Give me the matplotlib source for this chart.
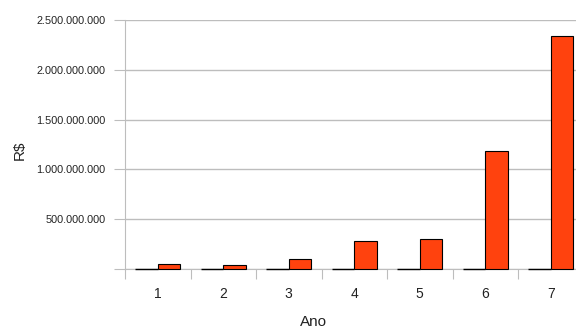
import numpy as np
import matplotlib.pyplot as plt
from matplotlib.ticker import FuncFormatter, FixedLocator

plt.rcParams['font.family'] = ['Liberation Sans', 'DejaVu Sans']

anos = [1, 2, 3, 4, 5, 6, 7]
serie_a = [3e6, 3e6, 3e6, 3e6, 3e6, 3e6, 3e6]
serie_b = [47e6, 37e6, 100e6, 284e6, 304e6, 1180e6, 2342e6]

fig = plt.figure(figsize=(5.76, 3.29), dpi=100)
ax = fig.add_axes([125 / 576, 60 / 329, 458.5 / 576, 249 / 329])

x = np.arange(len(anos))
w = 0.34
ax.bar(x - w / 2, serie_a, w, color='#222222', edgecolor='black', linewidth=1.0,
       zorder=3, clip_on=False)
ax.bar(x + w / 2, serie_b, w, color='#FF420E', edgecolor='black', linewidth=0.8,
       zorder=3, clip_on=False)

ax.set_xlim(-0.5, len(anos) - 0.5)
ax.set_ylim(0, 2.5e9)

grid_c = '#bdbdbd'
ax.set_yticks(np.arange(0, 2.5e9 + 1, 5e8))
ax.yaxis.set_major_formatter(FuncFormatter(
    lambda v, p: '' if v == 0 else f'{int(v):,}'.replace(',', '.')))
ax.grid(axis='y', color=grid_c, linewidth=1, zorder=0)
ax.tick_params(axis='y', length=8, color=grid_c, labelsize=7.8, labelcolor='#222222', pad=6)

ax.xaxis.set_major_locator(FixedLocator(np.arange(-0.5, len(anos), 1)))
ax.xaxis.set_minor_locator(FixedLocator(x))
ax.set_xticklabels([''] * (len(anos) + 1))
ax.set_xticklabels([str(a) for a in anos], minor=True)
ax.tick_params(axis='x', which='major', length=7, color=grid_c)
ax.tick_params(axis='x', which='minor', length=0, labelsize=10, labelcolor='#222222', pad=13)

for s in ['top', 'right']:
    ax.spines[s].set_visible(False)
ax.spines['left'].set_color(grid_c)
ax.spines['bottom'].set_color(grid_c)

fig.text(313 / 576, 1 - 322 / 329, 'Ano', ha='center', va='center', fontsize=11, color='#222222')
fig.text(20 / 576, 1 - 150 / 329, 'R$', ha='center', va='center', fontsize=11, rotation=90, color='#222222')

fig.savefig('out.png', dpi=100)
